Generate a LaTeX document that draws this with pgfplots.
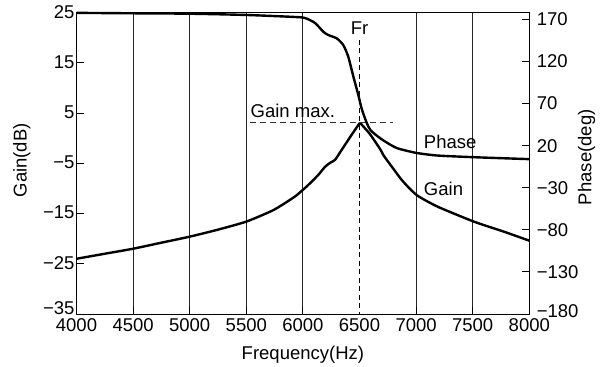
\documentclass[border=0pt]{standalone}
\usepackage{pgfplots}
\pgfplotsset{compat=1.18}
\usepackage{fontspec}
\setmainfont{Liberation Sans}
\begin{document}
\begin{tikzpicture}[font=\fontsize{18.5bp}{22bp}\selectfont]
\pgfplotsset{
  every axis/.append style={
    scale only axis, width=452.8bp, height=301.3bp,
    xmin=4000, xmax=8000,
    axis line style={line width=1bp, black},
    tick style={line width=1bp, black},
    major tick length=7bp, tick align=inside,
    clip=false,
  },
}
\begin{axis}[
  ymin=-35, ymax=25,
  xtick={4000,4500,5000,5500,6000,7000,7500,8000},
  xticklabels={4000,4500,5000,5500,6000,7000,7500,8000},
  extra x ticks={6500},
  extra x tick labels={6500},
  extra x tick style={grid=none, major tick length=0pt},
  ytick={-35,-25,...,25},
  yticklabels={\raisebox{9bp}{−35},−25,−15,−5,5,15,25},
  ytick pos=left, xtick pos=bottom,
  xmajorgrids, major grid style={black!85, line width=0.9bp},
  xticklabel style={yshift=-1.5bp},
  yticklabel style={xshift=1.5bp, yshift=1bp},
]
% Gain curve (rising side and falling side, meeting at the peak)
\addplot[black, line width=2.4bp, smooth, tension=0.35] coordinates {
(4000,-24.0) (4250,-23.0) (4500,-22.0) (4750,-20.8) (5000,-19.6) (5250,-18.2)
(5500,-16.6) (5740,-14.3) (5930,-11.6) (6048,-9.3) (6136,-7.3) (6195,-5.7)
(6240,-4.9) (6284,-4.3) (6343,-2.3) (6431,0.7) (6504,3.1)
};
\addplot[black, line width=2.4bp, smooth, tension=0.35] coordinates {
(6504,3.1) (6593,0.8)
(6686,-2.3) (6715,-3.5) (6803,-6.2) (6862,-8.0) (6921,-9.5) (7010,-11.4)
(7187,-13.6) (7510,-16.6) (7775,-18.6) (8000,-20.4)
};
% Fr and Gain max. dashed lines
\addplot[black, line width=1bp, dash pattern=on 5bp off 3.5bp] coordinates {(6500,19.6) (6500,-35)};
\addplot[black!80, line width=1bp, dash pattern=on 6bp off 4bp] coordinates {(5537,3.1) (6800,3.1)};
\node[anchor=base west, inner sep=0pt] at (axis cs:5537,4.15) {Gain max.};
\node[anchor=base, inner sep=0pt] at (axis cs:6500,20.56) {Fr};
\node[anchor=base west, inner sep=0pt] at (axis cs:7068,-2.0) {Phase};
\node[anchor=base west, inner sep=0pt] at (axis cs:7068,-11.5) {Gain};
% axis labels
\node[anchor=base, inner sep=0pt] at (axis description cs:0.5,-0.151) {Frequency(Hz)};
\node[anchor=base, inner sep=0pt, rotate=90] at (axis description cs:-0.1104,0.51) {Gain(dB)};
\node[anchor=base, inner sep=0pt, rotate=90] at (axis description cs:1.1369,0.52) {Phase(deg)};
\end{axis}
\begin{axis}[
  ymin=-180, ymax=178,
  axis y line*=right, axis x line=none,
  ytick={-180,-130,...,170},
  yticklabels={\raisebox{6bp}{−180},−130,−80,−30,20,70,120,170},
  yticklabel style={xshift=4bp},
]
% Phase curve
\addplot[black, line width=2.4bp, smooth, tension=0.4] coordinates {
(4000,177.8) (4500,177.3) (5000,176.8) (5500,175.3) (5930,172.9) (6019,171.7)
(6107,165.8) (6180,155.4) (6224,151.5) (6299,147.5) (6357,139.5) (6401,125.6)
(6445,102.5) (6490,80) (6519,64) (6564,47) (6600,38) (6686,28.5) (6774,21)
(6833,17) (6900,14.5) (7010,11.2) (7187,8.3) (7510,6.3) (8000,4.0)
};
\end{axis}
\pgfresetboundingbox
\path[use as bounding box] (-76.5bp,-53bp) rectangle (528.5bp,314bp);
\end{tikzpicture}
\end{document}
